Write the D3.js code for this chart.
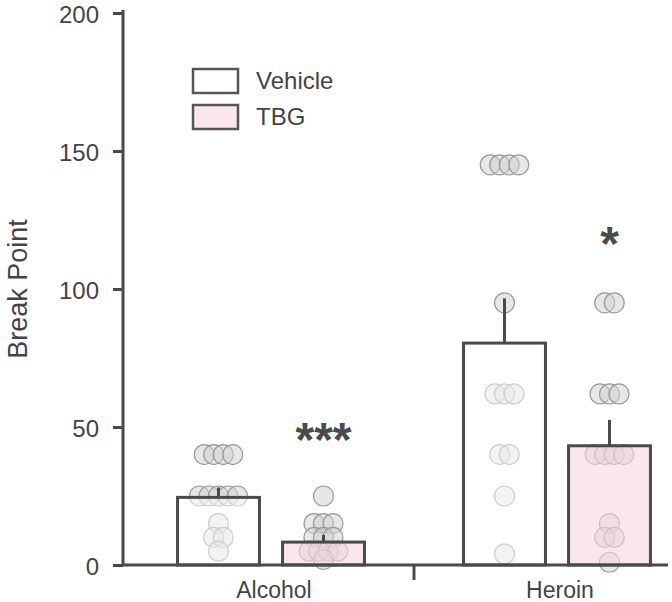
<!DOCTYPE html>
<html>
<head>
<meta charset="utf-8">
<script src="https://cdn.jsdelivr.net/npm/d3@7"></script>
<style>
  body { margin: 0; background: #fff; }
  text { font-family: "Liberation Sans", Arial, sans-serif; fill: #444; }
</style>
</head>
<body>
<svg width="672" height="602"></svg>
<script>
var groups = ["Alcohol", "Heroin"];
var treatments = ["Vehicle", "TBG"];

var meanVehicle = [24.5, 80.4];
var meanTBG = [8.3, 43.2];
var semVehicle = [3.6, 16.2];
var semTBG = [2.6, 9.4];

// individual animals
var pointsVehicle = [
  [40, 40, 40, 40, 25, 25, 25, 25, 25, 15, 10, 10, 5],
  [145, 145, 145, 145, 95, 62, 62, 62, 40, 40, 25, 4]
];
var pointsTBG = [
  [25, 15, 15, 15, 10, 10, 10, 5, 5, 5, 5, 2],
  [95, 95, 62, 62, 62, 40, 40, 40, 40, 15, 10, 10, 1]
];

var sigLabels = ["***", "*"];
var sigValues = [48, 119];
var yTicks = [0, 50, 100, 150, 200];

var svg = d3.select("svg");
var axisColor = "#4a4a4a";

var y = d3.scaleLinear().domain([0, 200]).range([565, 13]);
var x0 = d3.scaleBand().domain(groups).range([128, 700]);
var x1 = d3.scaleBand().domain(treatments).range([-105, 105])
    .paddingInner(0.22).paddingOuter(0.11);
var fill = d3.scaleOrdinal().domain(treatments).range(["#ffffff", "#f8d5e3"]);

function cx(g, t) { return x0(g) + x0.bandwidth() / 2 + x1(t) + x1.bandwidth() / 2; }

var data = [];
groups.forEach(function(g, i) {
  data.push({group: g, treat: "Vehicle", mean: meanVehicle[i], sem: semVehicle[i], pts: pointsVehicle[i]});
  data.push({group: g, treat: "TBG", mean: meanTBG[i], sem: semTBG[i], pts: pointsTBG[i]});
});

// spread dots with equal value side by side
var dots = [];
data.forEach(function(d) {
  var byVal = d3.group(d.pts, function(v) { return v; });
  byVal.forEach(function(vals, v) {
    vals.forEach(function(_, k) {
      dots.push({x: cx(d.group, d.treat) + (k - (vals.length - 1) / 2) * 9.5, v: v});
    });
  });
});

svg.append("g").selectAll("circle").data(dots).enter().append("circle")
    .attr("cx", function(d) { return d.x; })
    .attr("cy", function(d) { return y(d.v); })
    .attr("r", 10)
    .attr("fill", "#cfcfcf")
    .attr("fill-opacity", 0.5)
    .attr("stroke", "#9a9a9a")
    .attr("stroke-width", 1.2);

var bars = svg.append("g").selectAll("g").data(data).enter().append("g");

bars.append("rect")
    .attr("x", function(d) { return cx(d.group, d.treat) - x1.bandwidth() / 2; })
    .attr("width", x1.bandwidth())
    .attr("y", function(d) { return y(d.mean); })
    .attr("height", function(d) { return y(0) - y(d.mean); })
    .attr("fill", function(d) { return fill(d.treat); })
    .attr("fill-opacity", function(d) { return d.treat === "TBG" ? 0.6 : 0.5; })
    .attr("stroke", axisColor)
    .attr("stroke-width", 3);

bars.append("line")
    .attr("x1", function(d) { return cx(d.group, d.treat); })
    .attr("x2", function(d) { return cx(d.group, d.treat); })
    .attr("y1", function(d) { return y(d.mean); })
    .attr("y2", function(d) { return y(d.mean + d.sem); })
    .attr("stroke", axisColor)
    .attr("stroke-width", 3);

// significance stars over TBG bars
svg.append("g").selectAll("text").data(groups).enter().append("text")
    .attr("x", function(g) { return cx(g, "TBG"); })
    .attr("y", function(g, i) { return y(sigValues[i]) + 23; })
    .attr("text-anchor", "middle")
    .style("font-size", "48px")
    .style("font-weight", "bold")
    .style("fill", "#4a4a4a")
    .text(function(g, i) { return sigLabels[i]; });

// y axis
var yAxis = svg.append("g")
    .attr("transform", "translate(123,0)")
    .call(d3.axisLeft(y).tickValues(yTicks).tickSize(10).tickPadding(14));
yAxis.select(".domain").attr("stroke", axisColor).attr("stroke-width", 3)
    .attr("d", "M0," + (y(200) - 3) + "V" + y(0));
yAxis.selectAll(".tick line").attr("stroke", axisColor).attr("stroke-width", 3);
yAxis.selectAll(".tick text").style("font-size", "24px").attr("fill", "#444")
    .attr("dy", "0.38em")
    .style("font-family", "'Liberation Sans', Arial, sans-serif");

svg.append("text")
    .attr("transform", "translate(27," + y(100) + ") rotate(-90)")
    .attr("text-anchor", "middle")
    .style("font-size", "27px")
    .text("Break Point");

// x axis
svg.append("line")
    .attr("x1", 122).attr("x2", 668)
    .attr("y1", y(0)).attr("y2", y(0))
    .attr("stroke", axisColor).attr("stroke-width", 3);
svg.append("line")
    .attr("x1", x0("Heroin")).attr("x2", x0("Heroin"))
    .attr("y1", y(0)).attr("y2", y(0) + 15)
    .attr("stroke", axisColor).attr("stroke-width", 3);
svg.append("g").selectAll("text").data(groups).enter().append("text")
    .attr("x", function(g) { return x0(g) + x0.bandwidth() / 2 + 3; })
    .attr("y", 598)
    .attr("text-anchor", "middle")
    .style("font-size", "23px")
    .text(function(g) { return g; });

// legend
var legend = svg.append("g").selectAll("g").data(treatments).enter().append("g")
    .attr("transform", function(t, i) { return "translate(193," + (69 + i * 36) + ")"; });
legend.append("rect")
    .attr("width", 45).attr("height", 24)
    .attr("fill", function(t) { return fill(t); })
    .attr("fill-opacity", function(t) { return t === "TBG" ? 0.6 : 1; })
    .attr("stroke", "#555").attr("stroke-width", 2.5);
legend.append("text")
    .attr("x", 63).attr("y", 20)
    .style("font-size", "24px")
    .text(function(t) { return t; });
</script>
</body>
</html>
